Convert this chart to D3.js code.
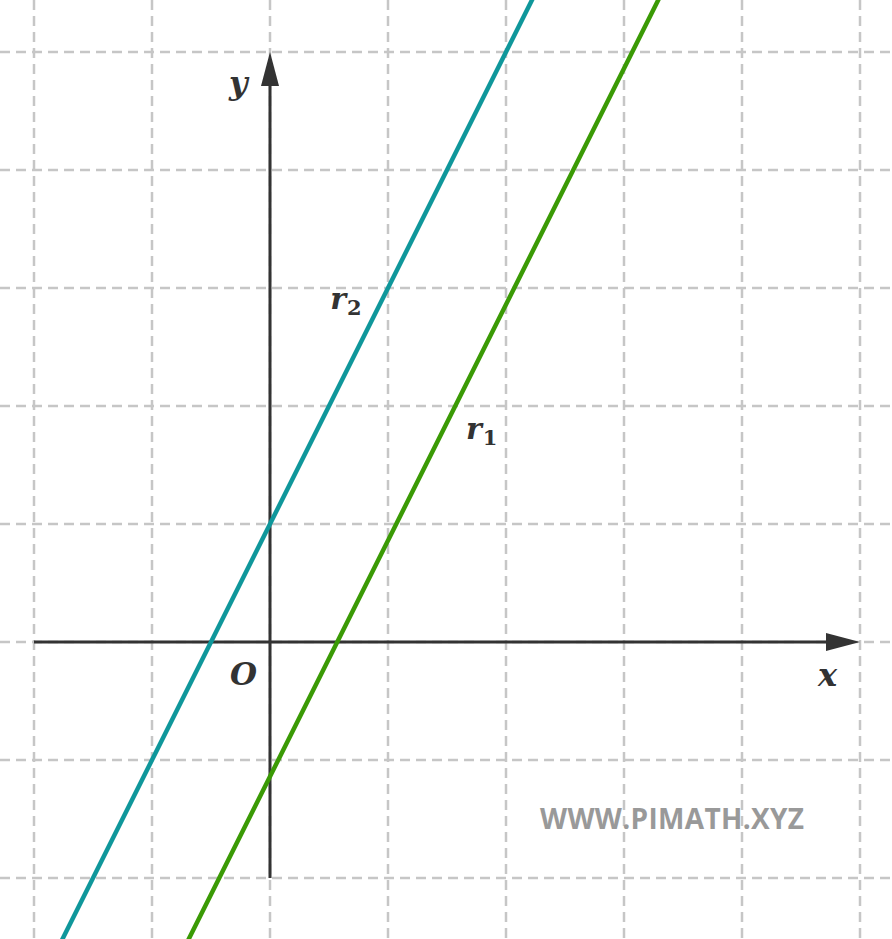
<!DOCTYPE html>
<html>
<head>
<meta charset="utf-8">
<script src="https://cdn.jsdelivr.net/npm/d3@7"></script>
<style>
  body { margin: 0; background: #fff; }
  .lbl { font-family: "DejaVu Serif", "Liberation Serif", serif; font-style: italic; font-weight: bold; fill: #333; }
  .mark { font-family: "Open Sans", "Noto Sans", sans-serif; font-weight: bold; fill: #999; }
</style>
</head>
<body>
<div id="chart"></div>
<script>
const width = 892;
const height = 939;

// grid ticks (units)
const gridX = [-2, -1, 0, 1, 2, 3, 4, 5];
const gridY = [-2, -1, 0, 1, 2, 3, 4, 5];

// lines y = m*x + q
const lineNames = ["r1", "r2"];
const lineSlopes = [2, 2];
const lineIntercepts = [-1.14, 1];
const lineColors = ["#3a9a05", "#0f979b"];
const labelPos = [[1.66, 1.72], [0.51, 2.82]];

const unit = 118;
const ox = 270, oy = 642;

const x = d3.scaleLinear()
   .domain([-ox/unit, (width-ox)/unit])
   .range([0, width]);
const y = d3.scaleLinear()
   .domain([-(height-oy)/unit, oy/unit])
   .range([height, 0]);

const svg = d3.select("#chart").append("svg")
   .attr("width", width)
   .attr("height", height);

// dashed grid
svg.append("g").selectAll("line")
   .data(gridX)
   .enter().append("line")
   .attr("x1", d => x(d)).attr("x2", d => x(d))
   .attr("y1", 0).attr("y2", height)
   .attr("stroke", "#c6c6c6")
   .attr("stroke-width", 2.5)
   .attr("stroke-dasharray", "10,6");

svg.append("g").selectAll("line")
   .data(gridY)
   .enter().append("line")
   .attr("x1", 0).attr("x2", width)
   .attr("y1", d => y(d)).attr("y2", d => y(d))
   .attr("stroke", "#c6c6c6")
   .attr("stroke-width", 2.5)
   .attr("stroke-dasharray", "10,6");

// axes
const axisColor = "#333";
const xMin = d3.min(gridX), xMax = d3.max(gridX);
const yMin = d3.min(gridY), yMax = d3.max(gridY);
const arrowLen = 34, arrowHalf = 9;

svg.append("line")
   .attr("x1", x(xMin)).attr("x2", x(xMax) - arrowLen + 2)
   .attr("y1", y(0)).attr("y2", y(0))
   .attr("stroke", axisColor).attr("stroke-width", 3);
svg.append("path")
   .attr("d", `M${x(xMax)},${y(0)} L${x(xMax)-arrowLen},${y(0)-arrowHalf} L${x(xMax)-arrowLen},${y(0)+arrowHalf} Z`)
   .attr("fill", axisColor);

svg.append("line")
   .attr("x1", x(0)).attr("x2", x(0))
   .attr("y1", y(yMin)).attr("y2", y(yMax) + arrowLen - 2)
   .attr("stroke", axisColor).attr("stroke-width", 3);
svg.append("path")
   .attr("d", `M${x(0)},${y(yMax)} L${x(0)-arrowHalf},${y(yMax)+arrowLen} L${x(0)+arrowHalf},${y(yMax)+arrowLen} Z`)
   .attr("fill", axisColor);

// lines
const xd = x.domain();
lineNames.forEach((name, i) => {
   const f = t => lineSlopes[i]*t + lineIntercepts[i];
   svg.append("line")
      .attr("x1", x(xd[0])).attr("y1", y(f(xd[0])))
      .attr("x2", x(xd[1])).attr("y2", y(f(xd[1])))
      .attr("stroke", lineColors[i])
      .attr("stroke-width", 4.5);
});

// line labels
lineNames.forEach((name, i) => {
   const t = svg.append("text")
      .attr("class", "lbl")
      .attr("x", x(labelPos[i][0]))
      .attr("y", y(labelPos[i][1]))
      .style("font-size", "30px");
   t.append("tspan").text(name[0]);
   t.append("tspan")
      .attr("dy", 6)
      .attr("dx", 1)
      .style("font-size", "21px")
      .style("font-style", "normal")
      .text(name.slice(1));
});

// axis labels
svg.append("text").attr("class", "lbl")
   .attr("x", x(0) - 41).attr("y", y(yMax) + 42)
   .style("font-size", "32px").text("y");
svg.append("text").attr("class", "lbl")
   .attr("x", x(xMax) - 42).attr("y", y(0) + 44)
   .style("font-size", "32px").text("x");
svg.append("text").attr("class", "lbl")
   .attr("x", x(0) - 40).attr("y", y(0) + 43)
   .style("font-size", "31px").text("O");

// watermark
svg.append("text").attr("class", "mark")
   .attr("x", 540).attr("y", 829)
   .attr("textLength", 264)
   .style("font-size", "28px")
   .text("WWW.PIMATH.XYZ");
</script>
</body>
</html>
